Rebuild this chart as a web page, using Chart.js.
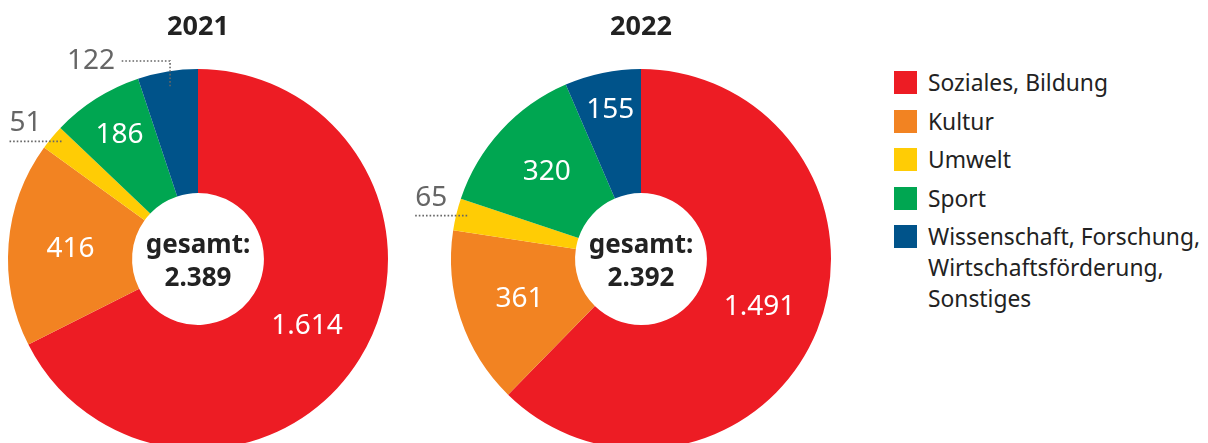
<!DOCTYPE html>
<html>
<head>
<meta charset="utf-8">
<script src="https://cdn.jsdelivr.net/npm/chart.js@4.4.0/dist/chart.umd.min.js"></script>
<style>
  html, body { margin: 0; padding: 0; width: 1208px; height: 443px; overflow: hidden; background: #fff; font-family: "Noto Sans", sans-serif; }
  #c2021 { position: absolute; left: 0; top: 0; }
  #c2022 { position: absolute; left: 400px; top: 0; }
  #legend { position: absolute; left: 894px; top: 71px; }
  .item { position: relative; height: 38.5px; padding-left: 34px; }
  .sw { position: absolute; left: 0; top: 0; width: 23px; height: 23px; }
  .lbl { position: relative; top: -4px; font-size: 22.8px; line-height: 31px; color: #222; white-space: nowrap; }
</style>
</head>
<body>
<canvas id="c2021" width="400" height="449"></canvas>
<canvas id="c2022" width="450" height="449"></canvas>
<div id="legend"></div>
<script>
// data
const categories = [
  "Soziales, Bildung",
  "Kultur",
  "Umwelt",
  "Sport",
  ["Wissenschaft, Forschung,", "Wirtschaftsförderung,", "Sonstiges"]
];
const values2021 = [1614, 416, 51, 186, 122];
const values2022 = [1491, 361, 65, 320, 155];
const colors = ["#ED1C24", "#F28322", "#FFCC05", "#00A651", "#00538A"];

const FONT = "'Noto Sans', sans-serif";

function fmt(v) {
  return String(v).replace(/\B(?=(\d{3})+(?!\d))/g, ".");
}

// value labels on / next to the slices
const sliceLabels = {
  id: "sliceLabels",
  afterDraw(chart, args, opts) {
    const ctx = chart.ctx;
    const meta = chart.getDatasetMeta(0);
    const data = chart.data.datasets[0].data;
    ctx.save();
    meta.data.forEach((arc, i) => {
      const p = arc.getProps(["x", "y", "startAngle", "endAngle", "innerRadius", "outerRadius"], true);
      const mid = (p.startAngle + p.endAngle) / 2;
      const deg = (p.endAngle - p.startAngle) * 180 / Math.PI;
      const cos = Math.cos(mid), sin = Math.sin(mid);
      const text = fmt(data[i]);
      const style = opts.styles[i];
      ctx.font = "28px " + FONT;
      ctx.textBaseline = "middle";

      if (style === "in") {
        const r = (p.innerRadius + p.outerRadius) / 2 + Math.max(0, 45 - deg) * 1.1;
        ctx.fillStyle = "#fff";
        ctx.textAlign = "center";
        ctx.fillText(text, p.x + cos * r, p.y + sin * r);
        return;
      }

      ctx.strokeStyle = "#666";
      ctx.lineWidth = 1.6;
      ctx.setLineDash([1.6, 2]);
      ctx.fillStyle = "#666";

      if (style === "left") {
        const ax = p.x + cos * (p.outerRadius - 6);
        const ay = p.y + sin * (p.outerRadius - 6);
        ctx.beginPath();
        ctx.moveTo(ax + 5, ay);
        ctx.lineTo(ax - 47, ay);
        ctx.stroke();
        ctx.textAlign = "left";
        ctx.fillText(text, ax - 47, ay - 18);
      } else if (style === "elbow") {
        const ax = p.x + cos * (p.outerRadius - 15);
        const ay = p.y + sin * (p.outerRadius - 15);
        const ty = p.y - p.outerRadius - 8;
        ctx.beginPath();
        ctx.moveTo(ax, ay);
        ctx.lineTo(ax, ty);
        ctx.lineTo(ax - 50, ty);
        ctx.stroke();
        ctx.textAlign = "right";
        ctx.fillText(text, ax - 55, ty);
      }
    });
    ctx.restore();
  }
};

// total in the hole
const centerText = {
  id: "centerText",
  afterDraw(chart) {
    const arc = chart.getDatasetMeta(0).data[0];
    const total = chart.data.datasets[0].data.reduce((a, b) => a + b, 0);
    const ctx = chart.ctx;
    ctx.save();
    ctx.fillStyle = "#222";
    ctx.textAlign = "center";
    ctx.textBaseline = "middle";
    ctx.font = "bold 26px " + FONT;
    ctx.fillText("gesamt:", arc.x, arc.y - 13);
    ctx.fillText(fmt(total), arc.x, arc.y + 20);
    ctx.restore();
  }
};

function makeChart(id, year, values, padLeft, padRight, styles) {
  return new Chart(document.getElementById(id), {
    type: "doughnut",
    data: {
      labels: categories,
      datasets: [{
        data: values,
        backgroundColor: colors,
        borderWidth: 0,
        hoverOffset: 0
      }]
    },
    options: {
      responsive: false,
      animation: false,
      cutout: "34.7%",
      layout: { padding: { left: padLeft, right: padRight, top: 0, bottom: 0 } },
      plugins: {
        legend: { display: false },
        tooltip: { enabled: false },
        title: {
          display: true,
          text: year,
          color: "#222",
          font: { family: FONT, size: 27, weight: "bold" },
          padding: { top: 11, bottom: 25.6 }
        },
        sliceLabels: { styles: styles }
      }
    },
    plugins: [sliceLabels, centerText]
  });
}

makeChart("c2021", "2021", values2021, 8, 12, ["in", "in", "left", "in", "elbow"]);
makeChart("c2022", "2022", values2022, 51, 19, ["in", "in", "left", "in", "in"]);

// legend
const legend = document.getElementById("legend");
categories.forEach((c, i) => {
  const item = document.createElement("div");
  item.className = "item";
  const sw = document.createElement("div");
  sw.className = "sw";
  sw.style.background = colors[i];
  const lbl = document.createElement("div");
  lbl.className = "lbl";
  lbl.innerHTML = (Array.isArray(c) ? c : [c]).join("<br>");
  item.appendChild(sw);
  item.appendChild(lbl);
  legend.appendChild(item);
});
</script>
</body>
</html>
